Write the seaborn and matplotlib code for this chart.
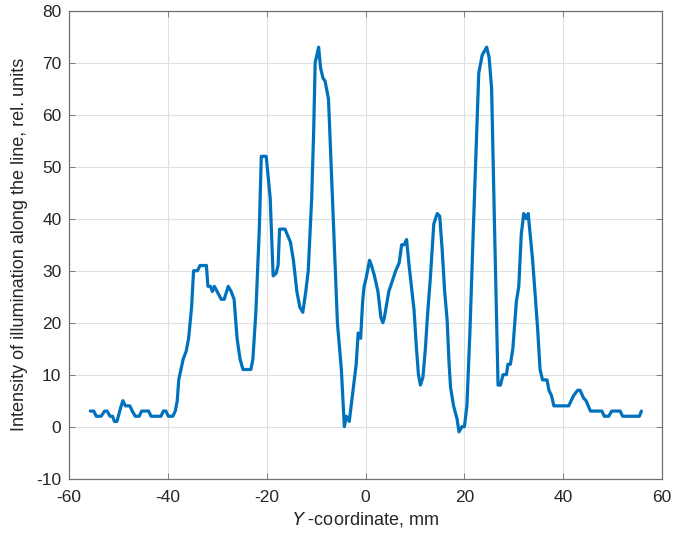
import matplotlib
matplotlib.use("Agg")
import matplotlib.pyplot as plt
import seaborn as sns
import pandas as pd

y_coord = [-55.7, -55.0, -54.5, -53.5, -52.8, -52.3, -51.7, -51.2, -50.8, -50.3,
           -49.6, -49.1, -48.6, -47.7, -47.2, -46.6, -45.8, -45.3, -43.9, -43.4,
           -41.4, -40.9, -40.4, -39.9, -39.0, -38.5, -38.1, -37.8, -36.9, -36.3,
           -35.8, -35.2, -34.8, -34.0, -33.5, -32.2, -31.9, -31.4, -31.0, -30.6,
           -29.2, -28.6, -27.8, -27.2, -26.6, -26.0, -25.4, -24.8, -23.2, -22.8,
           -22.2, -21.5, -21.1, -20.1, -19.3, -18.9, -18.7, -18.1, -17.7, -17.4,
           -16.3, -15.2, -14.6, -13.9, -13.3, -12.7, -12.1, -11.6, -10.9, -10.5,
           -10.2, -9.5, -9.1, -8.6, -8.2, -7.5, -6.5, -5.7, -4.9, -4.3,
           -3.9, -3.5, -3.3, -1.9, -1.5, -1.0, -0.6, -0.3, 0.1, 0.8,
           1.2, 1.8, 2.5, 3.1, 3.5, 3.8, 4.7, 6.1, 6.8, 7.3,
           7.8, 8.3, 8.8, 9.8, 10.3, 10.7, 11.1, 11.6, 12.1, 12.5,
           13.1, 13.8, 14.5, 15.0, 15.5, 16.0, 16.5, 16.9, 17.2, 17.8,
           18.5, 18.9, 19.5, 20.0, 20.5, 21.1, 21.8, 22.5, 22.9, 23.6,
           24.5, 25.0, 25.5, 26.1, 26.8, 27.3, 27.8, 28.5, 28.8, 29.3,
           29.8, 30.5, 31.0, 31.5, 32.0, 32.5, 32.9, 33.8, 34.8, 35.3,
           35.8, 36.7, 37.1, 37.6, 38.1, 41.1, 42.1, 42.9, 43.4, 44.1,
           44.6, 45.5, 47.8, 48.3, 49.2, 49.8, 51.5, 52.0, 55.4, 55.8]
intensity = [3, 3, 2, 2, 3, 3, 2, 2, 1, 1,
             3.5, 5, 4, 4, 3, 2, 2, 3, 3, 2,
             2, 3, 3, 2, 2, 3, 5, 9, 13, 14.5,
             17, 23, 30, 30, 31, 31, 27, 27, 26, 27,
             24.5, 24.5, 27, 26, 24.5, 17, 13, 11, 11, 13,
             22, 38, 52, 52, 44, 34, 29, 29.5, 31, 38,
             38, 35.5, 32, 26, 23, 22, 26, 30, 44, 57,
             70, 73, 69, 67, 66.5, 63, 39, 20, 11, 0,
             2, 1.5, 1, 12, 18, 17, 24, 27, 28.5, 32,
             31, 29, 26, 21, 20, 21, 26, 30, 31.5, 35,
             35, 36, 31, 22.5, 15, 10, 8, 9.5, 15, 21,
             28.5, 39, 41, 40.5, 34, 26, 20.5, 12, 7.5, 4,
             1.5, -1, 0, 0, 4, 18, 38, 57, 68, 71.5,
             73, 71, 65, 38, 8, 8, 10, 10, 12, 12,
             15, 24, 27, 37, 41, 40, 41, 32, 19, 11,
             9, 9, 7, 6, 4, 4, 6, 7, 7, 5.5,
             5, 3, 3, 2, 2, 3, 3, 2, 2, 3]

x_ticks = [-60, -40, -20, 0, 20, 40, 60]
y_ticks = [-10, 0, 10, 20, 30, 40, 50, 60, 70, 80]

df = pd.DataFrame({"y": y_coord, "I": intensity})

sns.set_theme(style="white")
plt.rcParams["font.family"] = ["Liberation Sans", "DejaVu Sans"]

fig = plt.figure(figsize=(6.74, 5.39), dpi=100)
ax = fig.add_axes([0.1024, 0.1120, 0.880, 0.868])

sns.lineplot(data=df, x="y", y="I", ax=ax, sort=False, estimator=None,
             color="#0072BD", linewidth=2.3)

ax.set_xlim(-60, 60)
ax.set_ylim(-10, 80)
ax.set_xticks(x_ticks)
ax.set_yticks(y_ticks)
ax.set_xticklabels([str(t) for t in x_ticks])
ax.set_yticklabels([str(t) for t in y_ticks])
ax.grid(True, color="#e0e0e0", linewidth=0.8)
ax.set_axisbelow(True)
for s in ax.spines.values():
    s.set_color("#707070")
    s.set_linewidth(0.9)
ax.tick_params(axis="both", direction="in", length=4, width=0.6,
               colors="#707070", labelsize=12.5, top=True, right=True,
               bottom=True, left=True, labelcolor="#262626")
ax.tick_params(axis="x", pad=8)
ax.tick_params(axis="y", pad=5.5)

ax.set_xlabel(r"$\it{Y}$ -coordinate, mm", fontsize=13, color="#262626",
              labelpad=4)
ax.set_ylabel("Intensity of illumination along the line, rel. units",
              fontsize=13, color="#262626", labelpad=6)

fig.savefig("out.png", dpi=100)
